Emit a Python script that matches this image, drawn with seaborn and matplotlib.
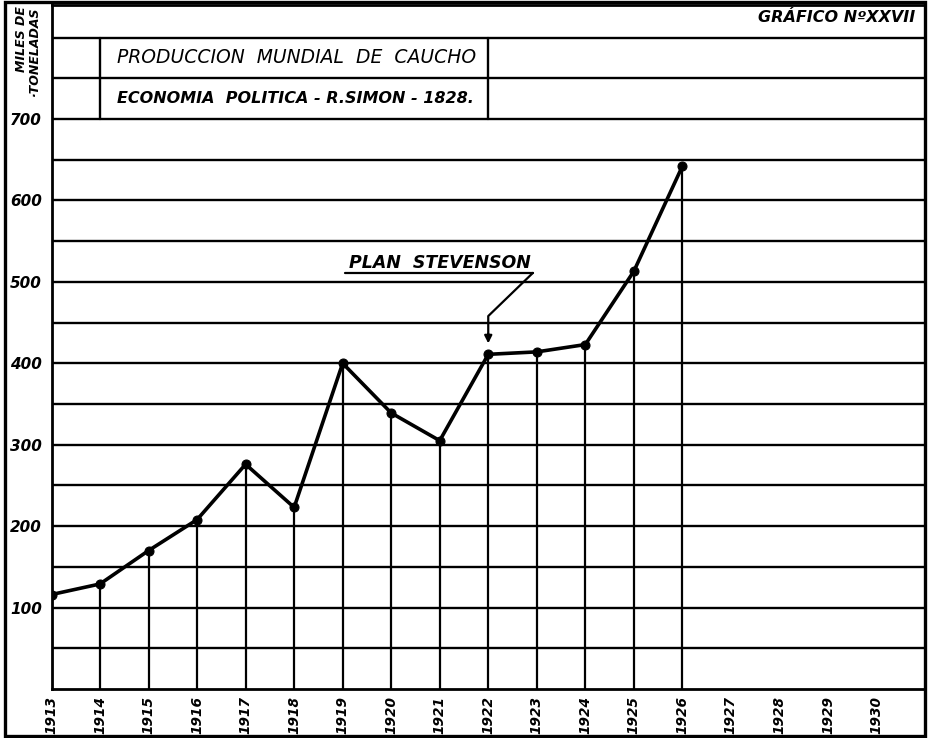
import matplotlib
matplotlib.use("Agg")
import matplotlib.pyplot as plt
from matplotlib.patches import Rectangle
import seaborn as sns
import pandas as pd

# ---- data ----
years = [1913, 1914, 1915, 1916, 1917, 1918, 1919, 1920, 1921, 1922, 1923, 1924, 1925, 1926]
production = [116, 129, 170, 208, 276, 223, 400, 339, 305, 411, 414, 423, 513, 642]
axis_years = list(range(1913, 1931))
axis_year_labels = [str(y) for y in axis_years]
y_tick_values = [100, 200, 300, 400, 500, 600, 700]
y_tick_labels = ["100", "200", "300", "400", "500", "600", "700"]

title_line1 = "PRODUCCION  MUNDIAL  DE  CAUCHO"
title_line2 = "ECONOMIA  POLITICA - R.SIMON - 1828."
chart_number = "GRÁFICO NºXXVII"
y_label = "MILES DE\n·TONELADAS"
annotation = "PLAN  STEVENSON"

df = pd.DataFrame({"year": years, "production": production})

sns.set_style("white")
plt.rcParams["font.family"] = ["DejaVu Sans"]
plt.rcParams["text.color"] = "black"
plt.rcParams["xtick.color"] = "black"
plt.rcParams["ytick.color"] = "black"
plt.rcParams["axes.labelcolor"] = "black"

W, H = 930, 738
fig = plt.figure(figsize=(W / 100, H / 100), dpi=100)
fig.patch.set_facecolor("white")

ax_left, ax_right, ax_top, ax_bottom = 51.5, 925, 5, 689
ax = fig.add_axes([ax_left / W, (H - ax_bottom) / H, (ax_right - ax_left) / W, (ax_bottom - ax_top) / H])
ax.set_facecolor("white")
ax.set_xlim(1913, 1931)
ax.set_ylim(0, 840)

# horizontal grid every 50
ax.set_yticks(y_tick_values)
ax.set_yticklabels(y_tick_labels)
ax.set_yticks(list(range(50, 801, 50)), minor=True)
ax.yaxis.grid(True, which="both", color="black", linewidth=1.7)
ax.xaxis.grid(False)
ax.set_axisbelow(True)

# drop lines from each point to the axis
ax.vlines(years, 0, production, color="black", linewidth=1.6, zorder=2)

sns.lineplot(data=df, x="year", y="production", ax=ax, color="black",
             linewidth=2.6, marker="o", markersize=6.5,
             markeredgecolor="black", markerfacecolor="black", zorder=3)

# ticks
ax.set_xticks(axis_years)
ax.set_xticklabels(axis_year_labels, rotation=90, fontsize=9.8,
                   fontweight="bold", fontstyle="italic", color="black")
for lbl in ax.get_yticklabels():
    lbl.set_fontsize(11)
    lbl.set_fontweight("bold")
    lbl.set_fontstyle("italic")
    lbl.set_color("black")
ax.tick_params(axis="x", length=0, pad=5)
ax.tick_params(axis="y", which="both", length=0, pad=7)
ax.set_xlabel("")
ax.set_ylabel("")

for s in ax.spines.values():
    s.set_visible(True)
    s.set_color("black")
    s.set_linewidth(2.0)

# title box
ax.plot([1914, 1914], [700, 800], color="black", linewidth=1.7, zorder=2)
ax.plot([1922, 1922], [700, 800], color="black", linewidth=1.7, zorder=2)
ax.text(1914.35, 775, title_line1, fontsize=13.5, fontstyle="italic",
        ha="left", va="center", zorder=4, color="black")
ax.text(1914.35, 725, title_line2, fontsize=11.5, fontweight="bold",
        fontstyle="italic", ha="left", va="center", zorder=4, color="black")

# chart number
fig.text(915 / W, 1 - 17 / H, chart_number, fontsize=11.5, fontweight="bold",
         fontstyle="italic", ha="right", va="center", color="black")

# y label
fig.text(28 / W, 1 - 6 / H, y_label, fontsize=9, fontweight="bold",
         fontstyle="italic", rotation=90, ha="center", va="top",
         linespacing=1.0, multialignment="right", color="black")

# annotation PLAN STEVENSON
ax.text(1921.0, 517, annotation, fontsize=12.5, fontweight="bold",
        fontstyle="italic", ha="center", va="baseline", zorder=4, color="black")
ax.plot([1919.05, 1922.92], [511, 511], color="black", linewidth=1.6, zorder=4)
ax.plot([1922.92, 1922.0, 1922.0], [511, 458, 432], color="black", linewidth=1.6, zorder=4)
ax.annotate("", xy=(1922.0, 421), xytext=(1922.0, 440),
            arrowprops=dict(arrowstyle="-|>", color="black", lw=1.6,
                            mutation_scale=11), zorder=4)

# outer frame
fig.add_artist(Rectangle((5 / W, 2 / H), (925 - 5) / W, (736 - 2) / H,
                         fill=False, edgecolor="black", linewidth=2.4,
                         transform=fig.transFigure))

fig.savefig("out.png", dpi=100, facecolor="white")
